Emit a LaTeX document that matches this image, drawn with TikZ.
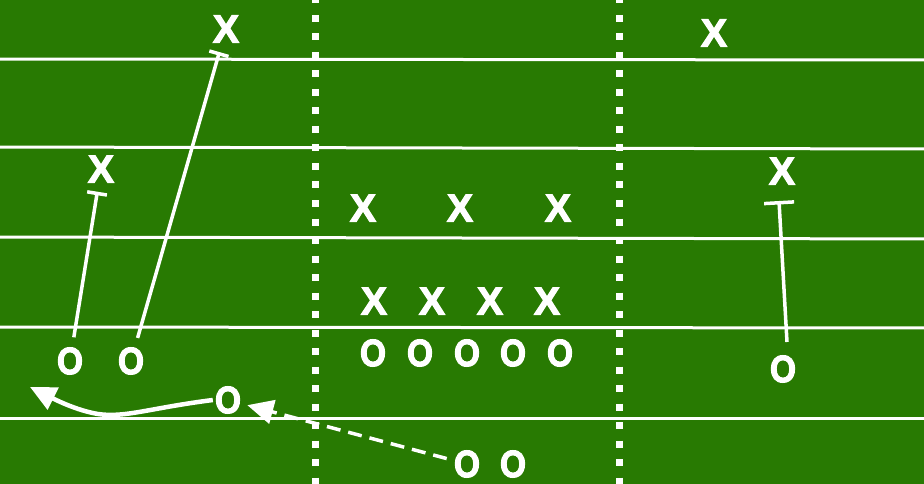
\documentclass[tikz,border=0pt]{standalone}
\usepackage{fontspec}
\setmainfont{Liberation Sans}
\newfontfamily\playfont[FakeBold=3]{Liberation Sans Bold}
\usetikzlibrary{arrows.meta}
\definecolor{field}{RGB}{40,122,2}
\tikzset{
  xp/.style={text=white, inner sep=0pt, font=\fontsize{39}{39}\selectfont\playfont},
  op/.style={text=white, inner sep=0pt, font=\fontsize{38}{38}\selectfont\playfont, xscale=0.88},
  yard/.style={draw=white, line width=3pt},
  hash/.style={draw=white, line width=7pt, dash pattern=on 7pt off 11.5pt},
  route/.style={draw=white, line width=3.5pt},
  block/.style={route, -{Bar[width=20pt,line width=3.5pt]}},
}
\begin{document}
\begin{tikzpicture}[x=1pt,y=-1pt]
\fill[field] (0,0) rectangle (924,484);
\useasboundingbox (0,0) rectangle (924,484);
% yard lines
\foreach \y/\z in {59/60,147/149,237/239,327/328,418/418}
  \draw[yard] (-2,\y) -- (926,\z);
% hash marks
\draw[hash] (315,-3.5) -- (315,490);
\draw[hash] (619,-3.5) -- (619,490);
% defence
\node[xp] (x1) at (226,29) {X};
\node[xp] (x2) at (101,169) {X};
\node[xp] (x3) at (714,33) {X};
\node[xp] (x4) at (782,171) {X};
\node[xp] (m1) at (363,208) {X};
\node[xp] (m2) at (460,208) {X};
\node[xp] (m3) at (558,208) {X};
\node[xp] (l1) at (374,301) {X};
\node[xp] (l2) at (432,301) {X};
\node[xp] (l3) at (490,301) {X};
\node[xp] (l4) at (547,301) {X};
% offence
\node[op] (c1) at (373,353) {O};
\node[op] (c2) at (420,353) {O};
\node[op] (c3) at (467,353) {O};
\node[op] (c4) at (513,353) {O};
\node[op] (c5) at (560,353) {O};
\node[op] (o1) at (70,361) {O};
\node[op] (o2) at (131,361) {O};
\node[op] (o3) at (228,400) {O};
\node[op] (o4) at (783,369) {O};
\node[op] (b1) at (467,464) {O};
\node[op] (b2) at (513,464) {O};
% routes
\draw[block, shorten <=24pt, shorten >=23pt] (o1.center) -- (x2.center);
\draw[block, shorten <=24pt, shorten >=24pt] (o2.center) -- (x1.center);
\coordinate (r4s) at (787,342);
\coordinate (r4e) at (779,201);
\draw[block, -{Bar[width=30pt,line width=3.5pt]}] (r4s) -- (r4e);
\coordinate (tip) at (30,387);
\draw[route, line width=4.5pt, -{Triangle[length=26pt,width=24pt]}]
  ([xshift=-2pt]o3.west) .. controls (150,408) and (125,418) .. (98,414)
  .. controls (80,411) and (62,403) .. (tip);
\draw[route, dash pattern=on 14pt off 8pt, shorten <=21pt, shorten >=20pt,
  -{Triangle[length=26pt,width=24pt]}] (b1.center) -- (o3.center);
\end{tikzpicture}
\end{document}
